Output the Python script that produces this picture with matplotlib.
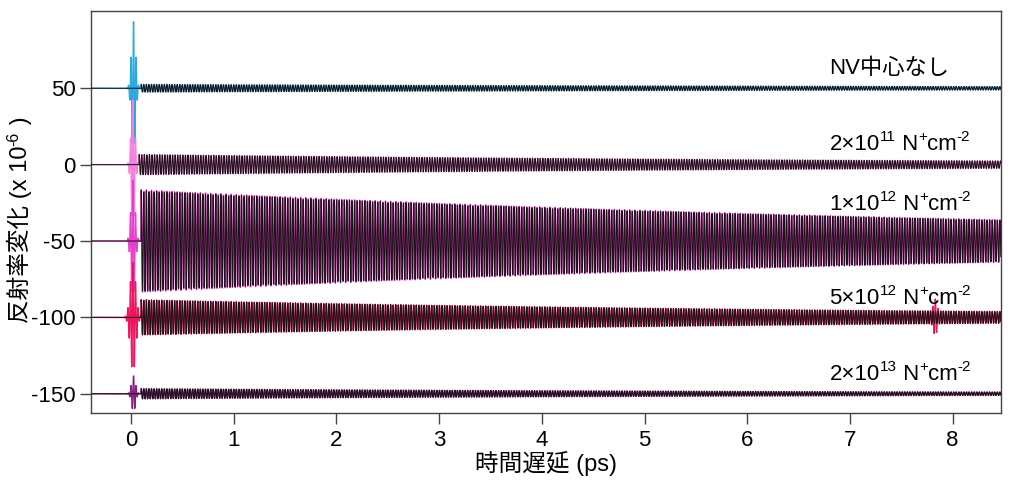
import numpy as np
import matplotlib
matplotlib.use("Agg")
import matplotlib.pyplot as plt
from matplotlib.transforms import IdentityTransform

plt.rcParams['font.family'] = ['Liberation Sans', 'Noto Sans CJK JP', 'DejaVu Sans']
plt.rcParams['axes.unicode_minus'] = False

# ---- data ----
# each label is a list of (text, is_superscript) pieces
labels = [[("NV中心なし", False)],
          [("2×10", False), ("11", True), (" N", False), ("+", True), ("cm", False), ("-2", True)],
          [("1×10", False), ("12", True), (" N", False), ("+", True), ("cm", False), ("-2", True)],
          [("5×10", False), ("12", True), (" N", False), ("+", True), ("cm", False), ("-2", True)],
          [("2×10", False), ("13", True), (" N", False), ("+", True), ("cm", False), ("-2", True)]]
offsets = [50, 0, -50, -100, -150]            # vertical offset (x10^-6)
fit_amp = [2.5, 6.6, 33.0, 11.4, 3.3]          # fitted amplitude at start
fit_tau = [10.2, 8.3, 9.5, 7.6, 7.6]           # decay time (ps)
fit_start = [0.10, 0.08, 0.10, 0.10, 0.10]     # start of fit (ps)
phonon_freq = 39.95                            # THz (cycles / ps)
burst_amp = [45.0, 42.0, 40.0, 36.0, 12.0]     # coherent artifact near t=0
burst_width = [0.028, 0.026, 0.028, 0.038, 0.028]
burst_center = [0.025, 0.02, 0.02, 0.02, 0.025]
raw_colors = ['#29abe2', '#f47fdc', '#e83ecb', '#f0145f', '#8c1a82']
glitch_trace = 3
glitch_time = 7.83
glitch_amp = 10.0
ylabel_parts = [("反射率変化 (x 10", False), ("-6", True), (" )", False)]
xlabel_text = "時間遅延 (ps)"

# ---- layout ----
label_x = 6.80
label_baseline = [59.5, 9.5, -30.0, -91.2, -141.2]
FS = 16
FS_SUP = 11
SUP_RAISE = 9  # pixels
FS_AXLABEL = 17
FS_AXSUP = 11.5

t = np.arange(-0.40, 8.50, 0.002)

fig = plt.figure(figsize=(10.10, 4.84), dpi=100)
ax = fig.add_axes([0.090, 0.147, 0.901, 0.830])

for i in range(5):
    osc = np.where(t >= fit_start[i],
                   fit_amp[i] * np.exp(-(t - fit_start[i]) / fit_tau[i])
                   * np.cos(2 * np.pi * phonon_freq * (t - fit_start[i])), 0.0)
    burst = burst_amp[i] * np.exp(-((t - burst_center[i]) / burst_width[i]) ** 2) \
        * np.cos(2 * np.pi * phonon_freq * (t - burst_center[i]))
    raw = offsets[i] + 1.02 * osc + burst
    if i == glitch_trace:
        raw = raw + glitch_amp * np.exp(-((t - glitch_time) / 0.025) ** 2) \
            * np.cos(2 * np.pi * phonon_freq * (t - glitch_time))
    ax.plot(t, raw, color=raw_colors[i], lw=1.0, zorder=2)
    ax.plot(t, offsets[i] + osc, color='#1c1418', lw=0.75, zorder=3)

ax.set_xlim(-0.39, 8.47)
ax.set_ylim(-162.5, 100.5)
ax.set_xticks(range(0, 9))
ax.set_yticks([50, 0, -50, -100, -150])
ax.tick_params(direction='out', length=8, width=1, labelsize=16, color='#444444', pad=3)
ax.tick_params(axis='x', pad=4)
for s in ax.spines.values():
    s.set_color('#444444')
    s.set_linewidth(1)
ax.set_xlabel(xlabel_text, fontsize=FS_AXLABEL, labelpad=0)

renderer = fig.canvas.get_renderer()


def rich_text(x0, y0, parts, rotated=False, fs_main=FS, fs_sup=FS_SUP):
    """Draw pieces with superscripts starting at display pixel (x0, y0) on baseline."""
    pos = 0.0
    for s, sup in parts:
        fs = fs_sup if sup else fs_main
        raise_px = SUP_RAISE if sup else 0
        if not rotated:
            txt = fig.text(x0 + pos, y0 + raise_px, s, fontsize=fs, ha='left',
                           va='baseline', transform=IdentityTransform())
            ext = txt.get_window_extent(renderer)
            pos += ext.width
        else:
            txt = fig.text(x0 - raise_px, y0 + pos, s, fontsize=fs, ha='left',
                           va='baseline', rotation=90, rotation_mode='anchor',
                           transform=IdentityTransform())
            ext = txt.get_window_extent(renderer)
            pos += ext.height


for i in range(5):
    px, py = ax.transData.transform((label_x, label_baseline[i]))
    rich_text(px, py, labels[i])

# y label (rotated, reading bottom to top)
rich_text(27, 484 - 323, ylabel_parts, rotated=True, fs_main=FS_AXLABEL, fs_sup=FS_AXSUP)

fig.savefig("out.png", dpi=100)
